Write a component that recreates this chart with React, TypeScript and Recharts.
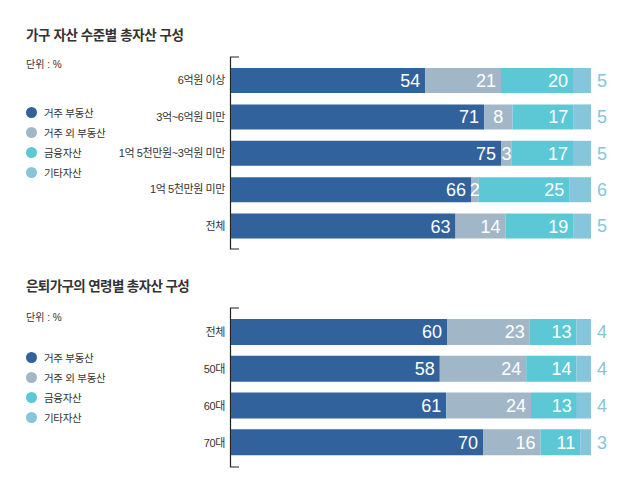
import { BarChart, Bar, XAxis, YAxis, LabelList, usePlotArea } from 'recharts';

const levelCats = ['6억원 이상', '3억~6억원 미만', '1억 5천만원~3억원 미만', '1억 5천만원 미만', '전체'];
const levelHousing = [54, 71, 75, 66, 63];
const levelOtherRE = [21, 8, 3, 2, 14];
const levelFinance = [20, 17, 17, 25, 19];
const levelOther = [5, 5, 5, 6, 5];

const ageCats = ['전체', '50대', '60대', '70대'];
const ageHousing = [60, 58, 61, 70];
const ageOtherRE = [23, 24, 24, 16];
const ageFinance = [13, 14, 13, 11];
const ageOther = [4, 4, 4, 3];

const seriesNames = ['거주 부동산', '거주 외 부동산', '금융자산', '기타자산'];
const colors = ['#31629c', '#a1b7c8', '#5cc8d6', '#86c5dc'];

const FONT = '"Liberation Sans", "Noto Sans CJK KR", sans-serif';

const build = (cats: string[], a: number[], b: number[], c: number[], d: number[]) =>
  cats.map((name, i) => ({ name, housing: a[i], otherRE: b[i], finance: c[i], other: d[i] }));

const levelData = build(levelCats, levelHousing, levelOtherRE, levelFinance, levelOther);
const ageData = build(ageCats, ageHousing, ageOtherRE, ageFinance, ageOther);

function Bracket() {
  const area = usePlotArea();
  if (!area) return null;
  const { x, y, height } = area;
  const px = x - 0.5;
  return (
    <path
      d={`M${px + 8.5},${y} H${px} V${y + height} H${px + 8.5}`}
      stroke="#222"
      strokeWidth={1.2}
      fill="none"
    />
  );
}

// white value inside segment: right-aligned, centred when the segment is narrow
const InsideLabel = (props: any) => {
  const { x, y, width, height, value } = props;
  const narrow = width < 32;
  return (
    <text
      x={narrow ? x + width / 2 : x + width - 5}
      y={y + height / 2}
      dy="0.36em"
      textAnchor={narrow ? 'middle' : 'end'}
      fill="#fff"
      fontSize={18}
      fontFamily={FONT}
    >
      {value}
    </text>
  );
};

const Legend = () => (
  <div>
    {seriesNames.map((n, i) => (
      <div key={n} style={{ display: 'flex', alignItems: 'center', height: 20 }}>
        <span
          style={{
            width: 11,
            height: 11,
            borderRadius: '50%',
            background: colors[i],
            display: 'inline-block',
            marginRight: 7,
          }}
        />
        <span style={{ fontSize: 10.5, color: '#333', letterSpacing: -0.3 }}>{n}</span>
      </div>
    ))}
  </div>
);

function Panel({
  data,
  top,
  height,
  margin,
  barSize,
  pad,
}: {
  data: any[];
  top: number;
  height: number;
  margin: { top: number; bottom: number };
  barSize: number;
  pad: number;
}) {
  const keys = ['housing', 'otherRE', 'finance', 'other'];
  return (
    <div style={{ position: 'absolute', left: 0, top }}>
      <BarChart
        width={632}
        height={height}
        data={data}
        layout="vertical"
        stackOffset="expand"
        barCategoryGap={0}
        margin={{ top: margin.top, bottom: margin.bottom, left: 0, right: 41 }}
      >
        <XAxis type="number" hide domain={[0, 1]} />
        <YAxis
          type="category"
          dataKey="name"
          width={231}
          axisLine={false}
          tickLine={false}
          tickSize={0}
          tickMargin={6}
          padding={{ top: pad, bottom: pad }}
          tick={{ fill: '#333', fontSize: 11, letterSpacing: -0.4, fontFamily: FONT }}
          interval={0}
        />
        {keys.map((k, i) => (
          <Bar key={k} dataKey={k} stackId="s" fill={colors[i]} barSize={barSize} isAnimationActive={false}>
            {i === 3 ? (
              <LabelList
                dataKey={k}
                position="right"
                offset={6}
                fill="#86c5dc"
                style={{ fontSize: 18, fontFamily: FONT }}
              />
            ) : (
              <LabelList dataKey={k} content={InsideLabel} />
            )}
          </Bar>
        ))}
        <Bracket />
      </BarChart>
    </div>
  );
}

export default function App() {
  return (
    <div
      style={{
        position: 'absolute',
        left: 0,
        top: 0,
        width: 632,
        height: 488,
        background: '#fff',
        fontFamily: FONT,
        color: '#333',
      }}
    >
      <Panel data={levelData} top={0} height={260} margin={{ top: 57, bottom: 11 }} barSize={25} pad={5} />
      <Panel data={ageData} top={260} height={228} margin={{ top: 48, bottom: 21 }} barSize={26} pad={6} />

      <div style={{ position: 'absolute', left: 26, top: 24, fontSize: 13.5, fontWeight: 600, letterSpacing: -0.4, color: '#333' }}>
        가구 자산 수준별 총자산 구성
      </div>
      <div style={{ position: 'absolute', left: 26, top: 56, fontSize: 10, color: '#333' }}>단위 : %</div>
      <div style={{ position: 'absolute', left: 26, top: 102 }}>
        <Legend />
      </div>

      <div style={{ position: 'absolute', left: 26, top: 275, fontSize: 13.5, fontWeight: 600, letterSpacing: -0.6, color: '#333' }}>
        은퇴가구의 연령별 총자산 구성
      </div>
      <div style={{ position: 'absolute', left: 26, top: 309, fontSize: 10, color: '#333' }}>단위 : %</div>
      <div style={{ position: 'absolute', left: 26, top: 347 }}>
        <Legend />
      </div>
    </div>
  );
}
